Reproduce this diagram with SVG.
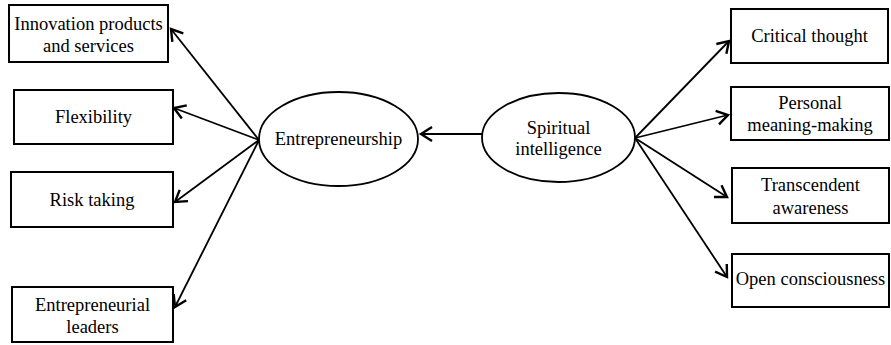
<svg xmlns="http://www.w3.org/2000/svg" width="891" height="345" viewBox="0 0 891 345">
<style>
.box{fill:#fff;stroke:#000;stroke-width:2}
.ell{fill:#fff;stroke:#000;stroke-width:1.8}
text{font-family:"Liberation Serif","Times New Roman","DejaVu Serif",serif;font-size:18.5px;fill:#000;text-anchor:middle}
.con line{stroke:#000;stroke-width:1.8;marker-end:url(#ah)}
</style>
<defs>
<marker id="ah" viewBox="-2 -2 16 18" refX="11" refY="7" markerWidth="16" markerHeight="18" markerUnits="userSpaceOnUse" orient="auto">
<path d="M0,0 L11,7 L0,14" fill="none" stroke="#000" stroke-width="2.4" stroke-linejoin="miter"/>
</marker>
</defs>
<g class="con" id="connectors">
<line x1="482" y1="134" x2="421" y2="134"/>
<line x1="259" y1="140" x2="171" y2="29"/>
<line x1="259" y1="140" x2="174" y2="108"/>
<line x1="259" y1="140" x2="175" y2="202"/>
<line x1="259" y1="140" x2="175" y2="307"/>
<line x1="635" y1="138" x2="729" y2="41"/>
<line x1="635" y1="138" x2="728" y2="115"/>
<line x1="635" y1="138" x2="727" y2="197"/>
<line x1="635" y1="138" x2="727" y2="277"/>
</g>
<g id="innovation"><rect class="box" x="9" y="5" width="159" height="57"/><text x="88.5" y="30">Innovation products</text><text x="88.5" y="52">and services</text></g>
<g id="flexibility"><rect class="box" x="14" y="90" width="159" height="54"/><text x="93.5" y="123">Flexibility</text></g>
<g id="risk"><rect class="box" x="11" y="172" width="162" height="55"/><text x="92" y="206">Risk taking</text></g>
<g id="leaders"><rect class="box" x="12" y="287" width="161" height="55"/><text x="92.5" y="311">Entrepreneurial</text><text x="92.5" y="333">leaders</text></g>
<g id="entrepreneurship"><ellipse class="ell" cx="338.5" cy="139" rx="79.5" ry="47"/><text x="338.5" y="145">Entrepreneurship</text></g>
<g id="spiritual"><ellipse class="ell" cx="558.5" cy="137.5" rx="76.5" ry="44.5"/><text x="558.5" y="134">Spiritual</text><text x="558.5" y="155">intelligence</text></g>
<g id="critical"><rect class="box" x="731" y="9" width="157" height="54"/><text x="809.5" y="42">Critical thought</text></g>
<g id="personal"><rect class="box" x="731" y="87" width="158" height="53"/><text x="810" y="109">Personal</text><text x="810" y="131">meaning-making</text></g>
<g id="transcendent"><rect class="box" x="732" y="168" width="157" height="55"/><text x="810.5" y="191">Transcendent</text><text x="810.5" y="214">awareness</text></g>
<g id="open"><rect class="box" x="732" y="254" width="157" height="53"/><text x="810.5" y="285">Open consciousness</text></g>
</svg>
